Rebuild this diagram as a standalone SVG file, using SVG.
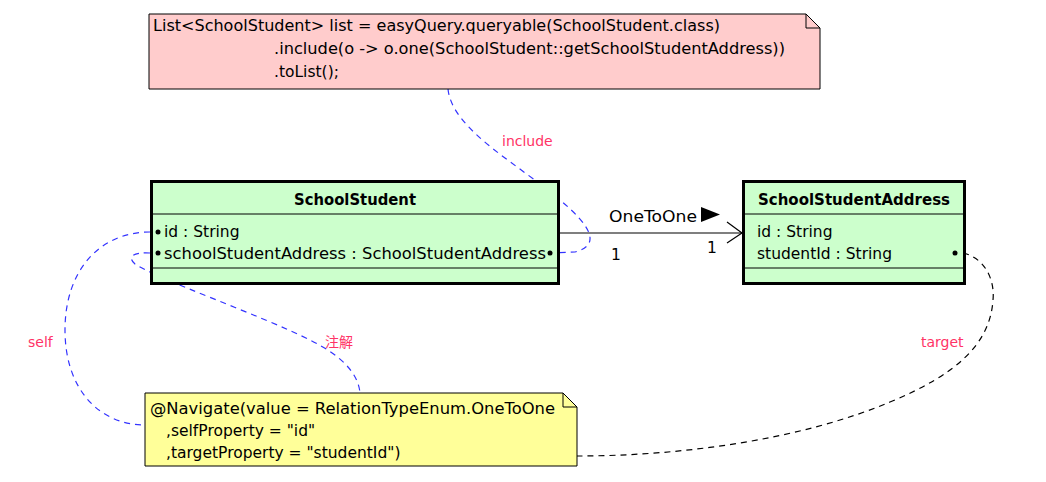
<svg xmlns="http://www.w3.org/2000/svg" width="1046" height="482" viewBox="0 0 1046 482">
<style>
.t{font-family:"DejaVu Sans","Noto Sans CJK SC",sans-serif;font-size:15.5px;fill:#000}
.b{font-weight:bold;font-size:15px}
.lbl{font-family:"DejaVu Sans","Noto Sans CJK SC",sans-serif;font-size:14px;fill:#ff3366}
.box{fill:#ccffcc;stroke:#000;stroke-width:3}
.div{stroke:#000;stroke-width:1}
.note{stroke:#000;stroke-width:1}
.blue{fill:none;stroke:#3333ff;stroke-width:1.2;stroke-dasharray:6 5}
.blk{fill:none;stroke:#000;stroke-width:1.2;stroke-dasharray:6 5}
</style>
<rect width="1046" height="482" fill="#fff"/>
<g id="connectors">
  <path class="blue" d="M448,89 C452,130 520,165 560,200 C590,225 602,245 575,252 L553,253"/>
  <path class="blue" d="M150,232 C100,232 65,270 65,330 C65,390 100,425 145,425"/>
  <path class="blue" d="M150,253 C135,252 126,256 135,264 C160,280 260,315 310,340 C340,355 358,372 360,393"/>
  <path class="blk" d="M963,253 C985,258 995,280 993,300 C990,345 955,375 890,402 C800,440 680,456 577,456"/>
  <line x1="150" y1="232" x2="158" y2="232" stroke="#3333ff" stroke-width="1.2"/>
  <line x1="150" y1="253" x2="158" y2="253" stroke="#3333ff" stroke-width="1.2"/>
  <line x1="550" y1="253" x2="560" y2="253" stroke="#3333ff" stroke-width="1.2"/>
  <line x1="955" y1="253" x2="965" y2="253" stroke="#000" stroke-width="1"/>
  <line x1="559" y1="233" x2="742" y2="233" stroke="#000" stroke-width="1.2"/>
  <polyline points="727,222 742,233 727,243" fill="none" stroke="#000" stroke-width="1.2"/>
  <text class="t" x="609" y="222" textLength="88" lengthAdjust="spacingAndGlyphs">OneToOne</text>
  <polygon points="701,207 720,214.5 701,222" fill="#000"/>
  <text class="t" x="611" y="260">1</text>
  <text class="t" x="707" y="253">1</text>
  <text class="lbl" x="502" y="146">include</text>
  <text class="lbl" x="28" y="347">self</text>
  <text class="lbl" x="325" y="347">注解</text>
  <text class="lbl" x="921" y="347">target</text>
</g>
<g id="note-query">
  <path class="note" d="M149,14 H806 L820,28 V89 H149 Z" fill="#ffcccc"/>
  <path class="note" d="M806,14 V28 H820" fill="none"/>
  <text class="t" x="153" y="31" textLength="567" lengthAdjust="spacingAndGlyphs">List&lt;SchoolStudent&gt; list = easyQuery.queryable(SchoolStudent.class)</text>
  <text class="t" x="274" y="54" textLength="511" lengthAdjust="spacingAndGlyphs">.include(o -&gt; o.one(SchoolStudent::getSchoolStudentAddress))</text>
  <text class="t" x="274" y="77">.toList();</text>
</g>
<g id="SchoolStudent">
  <rect class="box" x="151.5" y="181.5" width="407" height="102"/>
  <line class="div" x1="153" y1="214" x2="557" y2="214"/>
  <line class="div" x1="153" y1="268" x2="557" y2="268"/>
  <text class="t b" x="294" y="205" textLength="122" lengthAdjust="spacingAndGlyphs">SchoolStudent</text>
  <circle cx="158" cy="232" r="2.5"/>
  <circle cx="158" cy="253" r="2.5"/>
  <circle cx="550" cy="253" r="2.5"/>
  <text class="t" x="164" y="237">id : String</text>
  <text class="t" x="164" y="259" textLength="382" lengthAdjust="spacingAndGlyphs">schoolStudentAddress : SchoolStudentAddress</text>
</g>
<g id="SchoolStudentAddress">
  <rect class="box" x="743.5" y="181.5" width="221" height="102"/>
  <line class="div" x1="745" y1="214" x2="963" y2="214"/>
  <line class="div" x1="745" y1="268" x2="963" y2="268"/>
  <text class="t b" x="758" y="205" textLength="192" lengthAdjust="spacingAndGlyphs">SchoolStudentAddress</text>
  <circle cx="955" cy="253" r="2.5"/>
  <text class="t" x="757" y="237">id : String</text>
  <text class="t" x="757" y="259">studentId : String</text>
</g>
<g id="note-navigate">
  <path class="note" d="M145,393 H563 L577,407 V466 H145 Z" fill="#ffff99"/>
  <path class="note" d="M563,393 V407 H577" fill="none"/>
  <text class="t" x="150" y="414" textLength="405" lengthAdjust="spacingAndGlyphs">@Navigate(value = RelationTypeEnum.OneToOne</text>
  <text class="t" x="166" y="436">,selfProperty = "id"</text>
  <text class="t" x="166" y="458">,targetProperty = "studentId")</text>
</g>
</svg>
